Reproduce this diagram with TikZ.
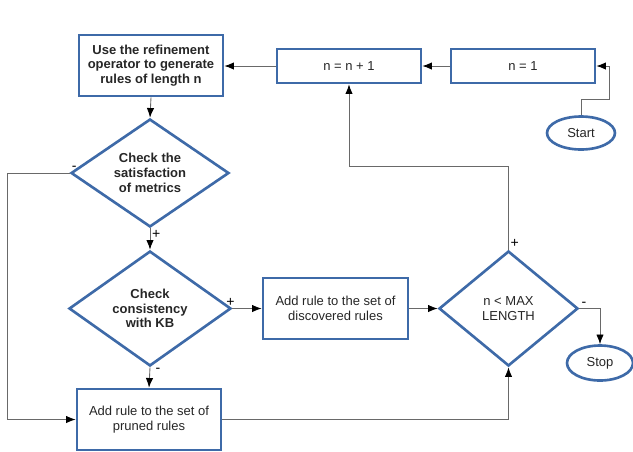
\documentclass[tikz,border=0pt]{standalone}
\usepackage{fontspec}
\setmainfont{Liberation Sans}
\usepackage{tikz}
\usetikzlibrary {arrows.meta,shapes.geometric}
\definecolor{boxblue}{RGB}{62,106,168}
\definecolor{linegray}{RGB}{105,105,105}
\tikzset{
    stepbox/.style={draw=boxblue, line width=1.5pt, rectangle, align=center, inner sep=1pt,
        font=\fontsize{7.4}{8.4}\selectfont, text=black!85},
    testbox/.style={draw=boxblue, line width=1.5pt, diamond, aspect=1.4, align=center, inner sep=0pt,
        font=\fontsize{7.4}{8.4}\selectfont, text=black!85},
    endbox/.style={draw=boxblue, line width=1.5pt, ellipse, inner sep=0pt,
        font=\fontsize{7.4}{8.4}\selectfont, text=black!85},
    conn/.style={draw=linegray, line width=0.5pt, -{Latex[length=5.5pt,width=4.2pt,color=black]}},
    sign/.style={font=\fontsize{8}{9}\selectfont, inner sep=1pt, text=black}
}

\begin{document}
\begin{tikzpicture}[x=0.02cm, y=-0.02cm]
    \useasboundingbox (0,0) rectangle (633,451);

    \node[stepbox, minimum width=2.88cm, minimum height=1.22cm] (refine) at (151,65.5)
        {\bfseries Use the refinement\\\bfseries operator to generate\\\bfseries rules of length n};
    \node[stepbox, minimum width=2.88cm, minimum height=0.68cm] (incr) at (349,66) {n = n + 1};
    \node[stepbox, minimum width=2.88cm, minimum height=0.68cm] (init) at (523,66) {n = 1};
    \node[endbox, minimum width=1.36cm, minimum height=0.66cm] (start) at (581,133) {Start};

    \node[testbox, minimum width=3.16cm, minimum height=2.16cm] (metrics) at (150,173)
        {\bfseries Check the\\\bfseries satisfaction\\\bfseries of metrics};
    \node[testbox, minimum width=3.24cm, minimum height=2.3cm] (consist) at (150,308.5)
        {\bfseries Check\\\bfseries consistency\\\bfseries with KB};
    \node[stepbox, minimum width=2.9cm, minimum height=1.22cm] (discovered) at (335.5,308.5)
        {Add rule to the set of\\discovered rules};
    \node[testbox, minimum width=2.78cm, minimum height=2.3cm] (lenchk) at (508.5,308.5)
        {n {\textless} MAX\\LENGTH};
    \node[stepbox, minimum width=2.88cm, minimum height=1.22cm] (pruned) at (149,419.5)
        {Add rule to the set of\\pruned rules};
    \node[endbox, minimum width=1.32cm, minimum height=0.7cm] (stop) at (600,363) {Stop};

    \coordinate (startrail) at (609,99);
    \coordinate (leftrail) at (7,0);
    \coordinate (backrail) at (0,166);

    \draw[conn] (start.north) -- (start.north |- startrail) -- (startrail) |- (init.east);
    \draw[conn] (init.west) -- (incr.east);
    \draw[conn] (incr.west) -- (incr.west -| refine.east);
    \draw[conn] (refine.south) -- (metrics.north);
    \draw[conn] (metrics.west) node[sign, above right] {-} -- (metrics.west -| leftrail) |- (pruned.west);
    \draw[conn] (metrics.south) node[sign, below right] {+} -- (consist.north);
    \draw[conn] (consist.east) node[sign, above, xshift=-1pt] {+} -- (discovered.west);
    \draw[conn] (consist.south) node[sign, right, xshift=2pt, yshift=-2pt] {-} -- (pruned.north);
    \draw[conn] (discovered.east) -- (lenchk.west);
    \draw[conn] (pruned.east) -| (lenchk.south);
    \draw[conn] (lenchk.north) node[sign, above right] {+} -- (lenchk.north |- backrail) -| (incr.south);
    \draw[conn] (lenchk.east) node[sign, above right] {-} -| (stop.north);
\end{tikzpicture}
\end{document}
